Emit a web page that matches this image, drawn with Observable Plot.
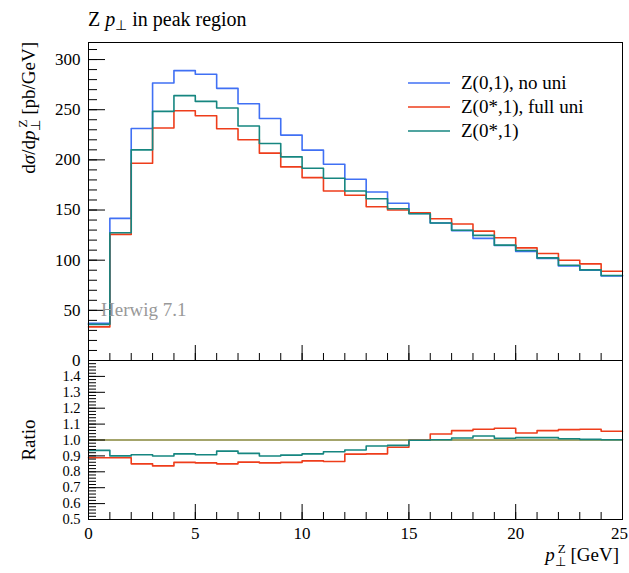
<!DOCTYPE html>
<html>
<head>
<meta charset="utf-8">
<script src="https://cdn.jsdelivr.net/npm/d3@7"></script>
<script src="https://cdn.jsdelivr.net/npm/@observablehq/plot@0.6"></script>
<style>
  body { margin: 0; background: #fff; }
  #chart { position: relative; width: 629px; height: 573px; font-family: "Liberation Serif", serif; }
  #chart svg { position: absolute; left: 0; overflow: visible; }
</style>
</head>
<body>
<div id="chart"></div>
<script>
// ---- data ----
const binLow = [0,1,2,3,4,5,6,7,8,9,10,11,12,13,14,15,16,17,18,19,20,21,22,23,24];
const xMax = 25;
const seriesNames = ["Z(0,1), no uni", "Z(0*,1), full uni", "Z(0*,1)"];
const seriesColors = ["#4070f4", "#ee3d1b", "#168680"];

const noUni   = [37, 141.7, 231.3, 276.7, 289, 285.3, 271.3, 256, 241.3, 224.7, 209.7, 195.7, 180.7, 168, 156.7, 146.7, 137, 129.5, 121.7, 114.7, 108.7, 101.7, 94.3, 90, 84.3];
const fullUni = [33.5, 125.7, 196.7, 231.7, 249, 244, 231, 220, 206.7, 193, 182.3, 169, 164.7, 153.3, 150, 147.3, 141.3, 136, 129, 122.3, 112.3, 106.7, 100, 96.3, 89];
const z01star = [36, 127.3, 210, 248.3, 264, 258.3, 251.7, 233.7, 216.3, 203, 191.7, 181.7, 169, 161.3, 151.3, 146.3, 137, 129.8, 124.7, 115, 109.7, 102.3, 95, 90.3, 84.7];

const ratioRef     = 1.0;
const ratioFullUni = [0.888, 0.888, 0.85, 0.837, 0.859, 0.856, 0.85, 0.861, 0.856, 0.859, 0.869, 0.865, 0.911, 0.913, 0.954, 0.998, 1.038, 1.059, 1.068, 1.074, 1.044, 1.059, 1.065, 1.068, 1.055];
const ratioZ01star = [0.935, 0.90, 0.907, 0.899, 0.913, 0.907, 0.93, 0.916, 0.899, 0.905, 0.913, 0.926, 0.937, 0.962, 0.966, 0.998, 1.002, 1.013, 1.025, 1.011, 1.015, 1.015, 1.008, 1.004, 1.002];

const yMajorTop = [0, 50, 100, 150, 200, 250, 300];
const yMinorTop = [0,10,20,30,40,50,60,70,80,90,100,110,120,130,140,150,160,170,180,190,200,210,220,230,240,250,260,270,280,290,300,310];
const yMajorRatio = [0.5, 0.6, 0.7, 0.8, 0.9, 1.0, 1.1, 1.2, 1.3, 1.4];
const yMinorRatio = [0.5,0.52,0.54,0.56,0.58,0.6,0.62,0.64,0.66,0.68,0.7,0.72,0.74,0.76,0.78,0.8,0.82,0.84,0.86,0.88,0.9,0.92,0.94,0.96,0.98,1.0,1.02,1.04,1.06,1.08,1.1,1.12,1.14,1.16,1.18,1.2,1.22,1.24,1.26,1.28,1.3,1.32,1.34,1.36,1.38,1.4,1.42,1.44,1.46,1.48];
const xMajor = [0, 5, 10, 15, 20, 25];
const xMinor = [0,1,2,3,4,5,6,7,8,9,10,11,12,13,14,15,16,17,18,19,20,21,22,23,24,25];

// ---- helpers ----
function steps(vals, name) {
  const rows = binLow.map((x, i) => ({x, y: vals[i], s: name}));
  rows.push({x: xMax, y: vals[vals.length - 1], s: name});
  return rows;
}
const W = 629, ML = 88, MR = 7;
const frameW = W - ML - MR;
const font = {fontFamily: "Liberation Serif, serif", fontSize: "17px", background: "transparent", overflow: "visible"};

const topData = [
  ...steps(noUni, seriesNames[0]),
  ...steps(fullUni, seriesNames[1]),
  ...steps(z01star, seriesNames[2])
];
const ratioData = [
  ...steps(ratioFullUni, seriesNames[1]),
  ...steps(ratioZ01star, seriesNames[2])
];
const color = {domain: seriesNames, range: seriesColors};

// ---- top panel ----
const topH = 360, topMT = 42;
const topPlot = Plot.plot({
  width: W, height: topH,
  marginTop: topMT, marginBottom: 0, marginLeft: ML, marginRight: MR,
  x: {domain: [0, xMax]},
  y: {domain: [0, 317]},
  color,
  style: font,
  marks: [
    Plot.line(topData, {x: "x", y: "y", z: "s", stroke: "s", curve: "step-after", strokeWidth: 1.6}),
    Plot.tickY(yMinorTop, {y: d => d, stroke: "#000", insetRight: frameW - 9}),
    Plot.tickY(yMajorTop, {y: d => d, stroke: "#000", insetRight: frameW - 17}),
    Plot.tickX(xMinor, {x: d => d, stroke: "#000", insetTop: (topH - topMT) - 7}),
    Plot.tickX(xMajor, {x: d => d, stroke: "#000", insetTop: (topH - topMT) - 15}),
    Plot.axisY({ticks: yMajorTop, tickSize: 0, tickPadding: 8, label: null, fontSize: 17}),
    Plot.axisX({ticks: [], tickSize: 0, label: null}),
    Plot.frame({stroke: "#000", strokeWidth: 1})
  ]
});
topPlot.style.top = "0px";

// ---- ratio panel ----
const rH = 213, rMB = 54;
const ratioPlot = Plot.plot({
  width: W, height: rH,
  marginTop: 0, marginBottom: rMB, marginLeft: ML, marginRight: MR,
  x: {domain: [0, xMax]},
  y: {domain: [0.5, 1.5]},
  color,
  style: font,
  marks: [
    Plot.ruleY([ratioRef], {stroke: "#86863a", strokeWidth: 1.6}),
    Plot.line(ratioData, {x: "x", y: "y", z: "s", stroke: "s", curve: "step-after", strokeWidth: 1.6}),
    Plot.tickY(yMinorRatio, {y: d => d, stroke: "#000", insetRight: frameW - 8}),
    Plot.tickY(yMajorRatio, {y: d => d, stroke: "#000", insetRight: frameW - 17}),
    Plot.tickX(xMinor, {x: d => d, stroke: "#000", insetTop: (rH - rMB) - 7}),
    Plot.tickX(xMajor, {x: d => d, stroke: "#000", insetTop: (rH - rMB) - 15}),
    Plot.axisY({ticks: yMajorRatio, tickSize: 0, tickPadding: 8, tickFormat: d3.format(".1f"), label: null, fontSize: 14.5}),
    Plot.axisX({ticks: xMajor.slice(0, -1), tickSize: 0, tickPadding: 7, label: null, fontSize: 17}),
    Plot.axisX({ticks: xMajor.slice(-1), tickSize: 0, tickPadding: 7, label: null, fontSize: 17, dx: -3}),
    Plot.frame({stroke: "#000", strokeWidth: 1})
  ]
});
ratioPlot.style.top = "360px";

const chart = document.getElementById("chart");
chart.appendChild(topPlot);
chart.appendChild(ratioPlot);

// ---- text overlay (titles, legend) ----
const ov = d3.select(chart).append("svg")
  .attr("width", W).attr("height", 573)
  .style("top", "0px").style("pointer-events", "none")
  .style("font-family", "Liberation Serif, serif");

// title
const t = ov.append("text").attr("x", 88).attr("y", 26).attr("font-size", 20).attr("fill", "#000");
t.append("tspan").text("Z ");
t.append("tspan").attr("font-style", "italic").text("p");
t.append("tspan").attr("font-size", 14).attr("dy", 4).text("⊥");
t.append("tspan").attr("dy", -4).text(" in peak region");

// legend
const legY = [83, 107, 131];
seriesNames.forEach((name, i) => {
  ov.append("line").attr("x1", 408).attr("x2", 450).attr("y1", legY[i]).attr("y2", legY[i])
    .attr("stroke", seriesColors[i]).attr("stroke-width", 1.6);
  ov.append("text").attr("x", 461).attr("y", legY[i] + 6).attr("font-size", 19).attr("fill", "#000").text(name);
});

// generator label
ov.append("text").attr("x", 101).attr("y", 316).attr("font-size", 19).attr("fill", "#999").text("Herwig 7.1");

// y title (top)
const yt = ov.append("text").attr("transform", "translate(35,42) rotate(-90)")
  .attr("text-anchor", "end").attr("font-size", 19).attr("fill", "#000");
yt.append("tspan").text("d");
yt.append("tspan").attr("font-style", "italic").text("σ");
yt.append("tspan").text("/d");
yt.append("tspan").attr("font-style", "italic").text("p");
yt.append("tspan").attr("font-size", 13).attr("dy", 5).text("⊥");
yt.append("tspan").attr("font-size", 13).attr("dx", -8).attr("dy", -13).text("Z");
yt.append("tspan").attr("dy", 8).text(" [pb/GeV]");

// y title (ratio)
ov.append("text").attr("transform", "translate(35,440) rotate(-90)")
  .attr("text-anchor", "middle").attr("font-size", 19).attr("fill", "#000").text("Ratio");

// x title
const xt = ov.append("text").attr("x", 619).attr("y", 561)
  .attr("text-anchor", "end").attr("font-size", 19).attr("fill", "#000");
xt.append("tspan").attr("font-style", "italic").text("p");
xt.append("tspan").attr("font-size", 13).attr("dy", 5).text("⊥");
xt.append("tspan").attr("font-size", 13).attr("dx", -8).attr("dy", -13).text("Z");
xt.append("tspan").attr("dy", 8).text(" [GeV]");
</script>
</body>
</html>
